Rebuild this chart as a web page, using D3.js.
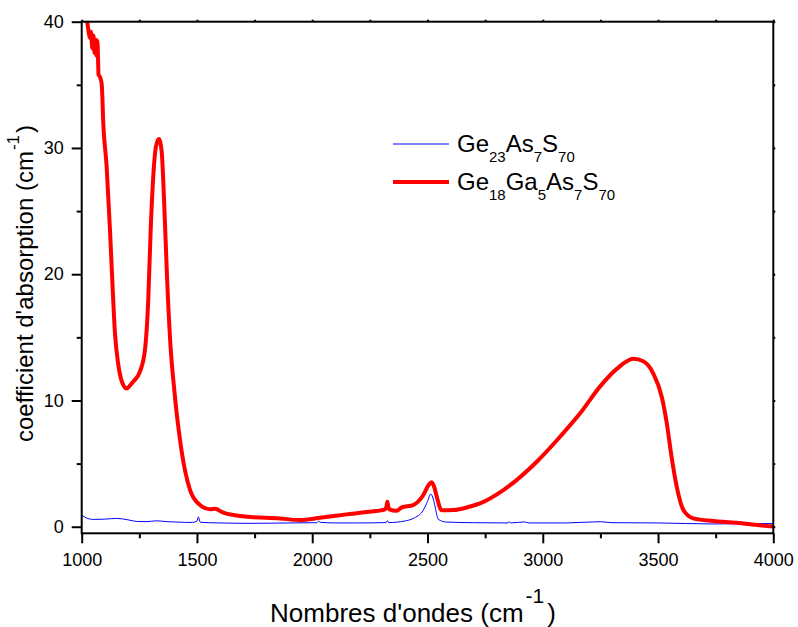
<!DOCTYPE html>
<html>
<head>
<meta charset="utf-8">
<script src="https://cdn.jsdelivr.net/npm/d3@7"></script>
<style>
  html, body { margin: 0; padding: 0; background: #fff; }
  svg { display: block; font-family: "Liberation Sans", Arial, sans-serif; }
</style>
</head>
<body>
<svg id="chart" width="798" height="627"></svg>
<script>
// ---- Data ----
const wavenumberRed = [1000,1010,1018,1024,1030,1036,1040,1046,1051,1056,1060,1064,1068,1071,1073,1080,1087,1094,1108,1123,1133,1144,1159,1181,1195,1210,1224,1253,1275,1289,1299,1311,1322,1335,1347,1357,1371,1386,1398,1410,1422,1435,1450,1470,1513,1557,1578,1614,1716,1860,1947,2034,2150,2236,2316,2322,2326,2330,2334,2366,2388,2438,2482,2505,2518,2530,2540,2562,2612,2684,2728,2829,2974,3075,3162,3248,3321,3393,3436,3479,3516,3538,3559,3581,3610,3653,3740,3841,3942,4000];
const absorbRed = [42.5,41.5,40.7,40.0,39.2,38.7,39.2,37.9,38.9,37.5,38.6,37.3,38.5,37.0,35.8,35.6,35.0,31.8,28.6,23.4,19.4,15.4,12.8,11.2,10.95,11.2,11.5,12.3,14.1,18.1,23.4,27.9,30.1,30.7,29.7,26.0,19.4,14.1,11.5,9.3,7.5,5.8,4.3,2.9,1.72,1.38,1.42,1.11,0.79,0.66,0.53,0.71,0.98,1.16,1.38,1.6,1.98,1.6,1.38,1.27,1.54,1.72,2.51,3.3,3.52,3.1,2.38,1.3,1.32,1.6,1.85,2.9,5.15,7.13,8.98,11.1,12.5,13.3,13.1,12.15,10.3,8.2,5.5,3.17,1.32,0.66,0.45,0.32,0.11,0.02];

const wavenumberBlue = [1000,1020,1050,1100,1152,1200,1238,1280,1325,1370,1412,1480,1500,1506,1512,1516,1600,1730,1900,2020,2028,2034,2100,2200,2320,2326,2332,2400,2438,2482,2500,2514,2525,2533,2547,2583,2700,2850,2855,2860,2920,2940,3100,3250,3300,3500,3740,3900,4000];
const absorbBlue = [0.93,0.7,0.58,0.6,0.66,0.55,0.42,0.4,0.47,0.4,0.37,0.34,0.45,0.78,0.45,0.35,0.3,0.27,0.3,0.32,0.45,0.35,0.3,0.3,0.33,0.48,0.33,0.45,0.66,1.32,2.0,2.59,2.2,1.58,0.58,0.37,0.32,0.3,0.4,0.3,0.38,0.3,0.3,0.4,0.32,0.3,0.22,0.25,0.25];

const xMajorTicks = [1000,1500,2000,2500,3000,3500,4000];
const xMinorTicks = [1250,1750,2250,2750,3250,3750];
const yMajorTicks = [0,10,20,30,40];
const yMinorTicks = [5,15,25,35];

const seriesNames = [
  [{t:"Ge",s:false},{t:"23",s:true},{t:"As",s:false},{t:"7",s:true},{t:"S",s:false},{t:"70",s:true}],
  [{t:"Ge",s:false},{t:"18",s:true},{t:"Ga",s:false},{t:"5",s:true},{t:"As",s:false},{t:"7",s:true},{t:"S",s:false},{t:"70",s:true}]
];
const seriesColors = ["#0000ff", "#ff0000"];
const seriesWidths = [1, 4];

// ---- Layout ----
const svg = d3.select("#chart");
const L = 81.7, R = 773.3, T = 21.7, B = 533.3;

const x = d3.scaleLinear().domain([1000, 4000]).range([L, R]);
const y = d3.scaleLinear().domain([-0.52, 40]).range([B, T]);

svg.append("defs").append("clipPath").attr("id", "clip")
  .append("rect").attr("x", L).attr("y", T).attr("width", R - L).attr("height", B - T);

const line = d3.line().x(d => x(d[0])).y(d => y(d[1])).curve(d3.curveMonotoneX);

const blueData = wavenumberBlue.map((w, i) => [w, absorbBlue[i]]);
const redData = wavenumberRed.map((w, i) => [w, absorbRed[i]]);

const plot = svg.append("g").attr("clip-path", "url(#clip)");
plot.append("path").datum(blueData).attr("d", line)
  .attr("fill", "none").attr("stroke", seriesColors[0]).attr("stroke-width", seriesWidths[0]);
plot.append("path").datum(redData).attr("d", line)
  .attr("fill", "none").attr("stroke", seriesColors[1]).attr("stroke-width", seriesWidths[1])
  .attr("stroke-linejoin", "round").attr("stroke-linecap", "round");

// ---- Axes ----
function styleAxis(g) {
  g.select(".domain").remove();
  g.selectAll(".tick line").attr("stroke", "#000").attr("stroke-width", 2);
  g.selectAll(".tick text").attr("fill", "#000").attr("font-size", 18)
    .attr("font-family", "'Liberation Sans', Arial, sans-serif");
}

svg.append("g").attr("transform", `translate(0,${B})`)
  .call(d3.axisBottom(x).tickValues(xMajorTicks).tickSize(10).tickPadding(10).tickFormat(d3.format("d")))
  .call(styleAxis);
svg.append("g").attr("transform", `translate(0,${B})`)
  .call(d3.axisBottom(x).tickValues(xMinorTicks).tickSize(5).tickFormat(""))
  .call(styleAxis);
svg.append("g").attr("transform", `translate(${L},0)`)
  .call(d3.axisLeft(y).tickValues(yMajorTicks).tickSize(10).tickPadding(8).tickFormat(d3.format("d")))
  .call(styleAxis);
svg.append("g").attr("transform", `translate(${L},0)`)
  .call(d3.axisLeft(y).tickValues(yMinorTicks).tickSize(5).tickFormat(""))
  .call(styleAxis);
// small ticks on top / right
svg.append("g").attr("transform", `translate(0,${T})`)
  .call(d3.axisTop(x).tickValues(xMajorTicks.concat(xMinorTicks)).tickSize(2).tickFormat(""))
  .call(styleAxis);
svg.append("g").attr("transform", `translate(${R},0)`)
  .call(d3.axisRight(y).tickValues(yMajorTicks.concat(yMinorTicks)).tickSize(2).tickFormat(""))
  .call(styleAxis);

// frame
svg.append("rect").attr("x", L).attr("y", T).attr("width", R - L).attr("height", B - T)
  .attr("fill", "none").attr("stroke", "#000").attr("stroke-width", 2);

// ---- Axis titles ----
const xt = svg.append("text").attr("x", 413).attr("y", 621.7)
  .attr("text-anchor", "middle").attr("font-size", 26).attr("fill", "#000");
xt.append("tspan").text("Nombres d'ondes (cm");
xt.append("tspan").attr("font-size", 21).attr("dy", -19).attr("dx", 2).text("-1");
xt.append("tspan").attr("font-size", 26).attr("dy", 19).attr("dx", 3).text(")");

const yt = svg.append("text").attr("transform", "translate(33,283.5) rotate(-90)")
  .attr("text-anchor", "middle").attr("font-size", 24).attr("fill", "#000");
yt.append("tspan").text("coefficient d'absorption (cm");
yt.append("tspan").attr("font-size", 17).attr("dy", -14).attr("dx", 1).text("-1");
yt.append("tspan").attr("font-size", 24).attr("dy", 14).attr("dx", 2).text(")");

// ---- Legend ----
const legendY = [144, 182];
const legend = svg.append("g");
seriesNames.forEach((parts, i) => {
  legend.append("line").attr("x1", 393).attr("x2", 449).attr("y1", legendY[i]).attr("y2", legendY[i])
    .attr("stroke", seriesColors[i]).attr("stroke-width", seriesWidths[i]);
  const t = legend.append("text").attr("x", 457).attr("y", legendY[i] + 8)
    .attr("font-size", 24).attr("fill", "#000");
  let sub = false;
  parts.forEach(p => {
    const ts = t.append("tspan").text(p.t);
    if (p.s && !sub) { ts.attr("font-size", 15).attr("dy", 10); sub = true; }
    else if (!p.s && sub) { ts.attr("font-size", 24).attr("dy", -10); sub = false; }
    else if (p.s) { ts.attr("font-size", 15); }
  });
});
</script>
</body>
</html>
